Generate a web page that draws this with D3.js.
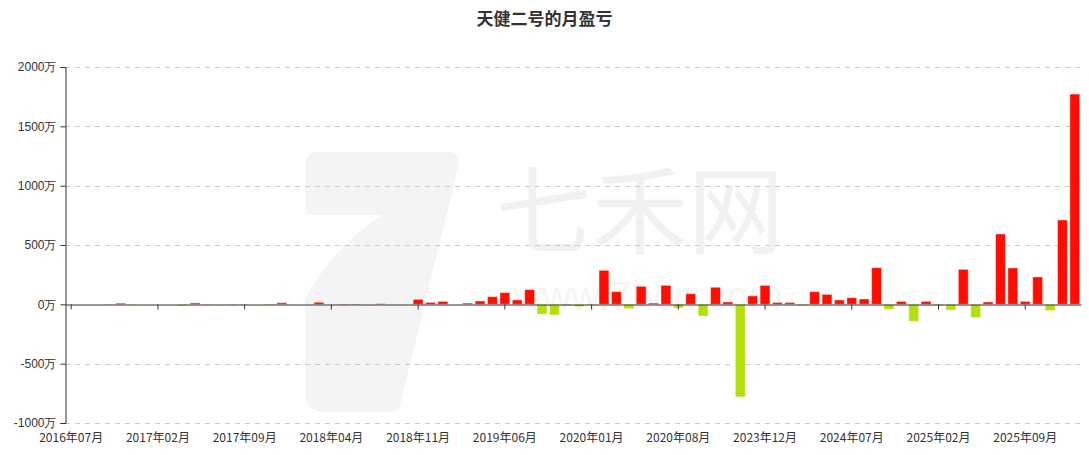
<!DOCTYPE html>
<html>
<head>
<meta charset="utf-8">
<script src="https://cdn.jsdelivr.net/npm/d3@7"></script>
<style>
  body { margin: 0; background: #fff; }
  svg { font-family: "Noto Sans CJK SC", "Noto Sans", sans-serif; }
</style>
</head>
<body>
<svg id="chart"></svg>
<script>
const width = 1089;
const height = 455;

// months shown on the category axis (gap after 2020 is in the source data)
const months = [
  "2016年07月","2016年08月","2016年09月","2016年10月","2016年11月","2016年12月",
  "2017年01月","2017年02月","2017年03月","2017年04月","2017年05月","2017年06月",
  "2017年07月","2017年08月","2017年09月","2017年10月","2017年11月","2017年12月",
  "2018年01月","2018年02月","2018年03月","2018年04月","2018年05月","2018年06月",
  "2018年07月","2018年08月","2018年09月","2018年10月","2018年11月","2018年12月",
  "2019年01月","2019年02月","2019年03月","2019年04月","2019年05月","2019年06月",
  "2019年07月","2019年08月","2019年09月","2019年10月","2019年11月","2019年12月",
  "2020年01月","2020年02月","2020年03月","2020年04月","2020年05月","2020年06月",
  "2020年07月","2020年08月","2020年09月","2020年10月","2020年11月","2020年12月",
  "2021年01月","2021年02月",
  "2023年12月","2024年01月","2024年02月","2024年03月","2024年04月","2024年05月",
  "2024年06月","2024年07月","2024年08月","2024年09月","2024年10月","2024年11月",
  "2024年12月","2025年01月","2025年02月","2025年03月","2025年04月","2025年05月",
  "2025年06月","2025年07月","2025年08月","2025年09月","2025年10月","2025年11月",
  "2025年12月","2026年01月"
];

// monthly profit / loss, in 万
const profit = [
  0.5, -0.5, 1, 2, 10, -4, 1, -1, -2, -14, 12, 2,
  -3, 2, 1, 0, -6, 14, 1, 0, 18, -1, 3, 2,
  -2, 6, 1, -3, 42, 17, 25, 1, 11, 28, 65, 99,
  37, 124, -84, -90, -14, -20, -8, 287, 107, -37, 152, 11,
  160, -31, 90, -99, 144, 20, -780, 71,
  160, 16, 16, -12, 107, 84, 37, 56, 45, 309, -42, 25,
  -143, 25, -11, -48, 295, -112, 20, 593, 307, 25, 231, -53,
  711, 1772
];

const yTicks = [-1000, -500, 0, 500, 1000, 1500, 2000];
const labelEvery = 7;

const margin = { top: 67, right: 8, bottom: 32, left: 65 };

const svg = d3.select("svg#chart")
  .attr("width", width)
  .attr("height", height);

// watermark
const wm = svg.append("g").attr("id", "watermark");
wm.append("path")
  .attr("d", "M318,152 L448,152 Q462,152 458,168 L400,405 Q398,412 388,412 L325,412 Q305,412 305,392 L305,300 Q330,250 382,215 L310,215 Q305,215 305,205 L305,165 Q305,152 318,152 Z")
  .attr("fill", "#f4f4f4");
wm.append("text")
  .attr("x", 640).attr("y", 246)
  .attr("text-anchor", "middle")
  .attr("font-size", 96)
  .attr("fill", "#f1f1f1")
  .text("七禾网");
wm.append("text")
  .attr("x", 648).attr("y", 310)
  .attr("text-anchor", "middle")
  .attr("font-family", "Liberation Sans, sans-serif")
  .attr("font-size", 40)
  .attr("fill", "#f5f5f5")
  .text("www.7hcn.com");

// scales
const x = d3.scaleBand()
  .domain(months)
  .range([margin.left, width - margin.right])
  .paddingInner(0.2)
  .paddingOuter(0.1);

const y = d3.scaleLinear()
  .domain([-1000, 2000])
  .range([height - margin.bottom, margin.top]);

// grid
svg.append("g").attr("id", "grid")
  .selectAll("line")
  .data(yTicks.filter(d => d != 0))
  .enter()
  .append("line")
    .attr("x1", margin.left)
    .attr("x2", width - margin.right)
    .attr("y1", d => Math.round(y(d)) + 0.5)
    .attr("y2", d => Math.round(y(d)) + 0.5)
    .attr("stroke", "#cccccc")
    .attr("stroke-dasharray", "5,5");

// bars
svg.append("g").attr("id", "bars")
  .selectAll("rect")
  .data(months.map((m, i) => ({ month: m, value: profit[i] })))
  .enter()
  .append("rect")
    .attr("x", d => x(d.month))
    .attr("width", x.bandwidth())
    .attr("y", d => y(Math.max(0, d.value)))
    .attr("height", d => Math.abs(y(d.value) - y(0)))
    .attr("fill", d => d.value >= 0 ? "#ff0d00" : "#b3e00b")
    .attr("stroke", "rgba(255,255,255,0.45)")
    .attr("stroke-width", 1);

// y axis
const yAxis = d3.axisLeft(y)
  .tickValues(yTicks)
  .tickSize(5)
  .tickPadding(4)
  .tickFormat(d => d + "万");
const yg = svg.append("g")
  .attr("id", "yAxis")
  .attr("transform", "translate(" + (margin.left + 0.5) + ",0)")
  .call(yAxis);
yg.selectAll("text").attr("font-size", 12).attr("fill", "#333");
yg.selectAll("line, path").attr("stroke", "#333");

// x axis on the zero line
const xAxis = d3.axisBottom(x)
  .tickValues(months.filter((m, i) => i % labelEvery == 0))
  .tickSize(5)
  .tickSizeOuter(0)
  .tickPadding(0)
  .tickFormat(() => "");
const xg = svg.append("g")
  .attr("id", "xAxis")
  .attr("transform", "translate(0," + (Math.round(y(0)) + 0.5) + ")")
  .call(xAxis);
xg.selectAll("line, path").attr("stroke", "#333");

// x labels along the bottom
svg.append("g").attr("id", "xLabels")
  .selectAll("text")
  .data(months.filter((m, i) => i % labelEvery == 0))
  .enter()
  .append("text")
    .attr("x", d => x(d) + x.bandwidth() / 2)
    .attr("y", height - margin.bottom + 19)
    .attr("text-anchor", "middle")
    .attr("font-size", 12)
    .attr("fill", "#333")
    .text(d => d);

// title
svg.append("text")
  .attr("x", width / 2)
  .attr("y", 25)
  .attr("text-anchor", "middle")
  .attr("font-size", 17)
  .attr("font-weight", "bold")
  .attr("fill", "#333")
  .text("天健二号的月盈亏");
</script>
</body>
</html>
